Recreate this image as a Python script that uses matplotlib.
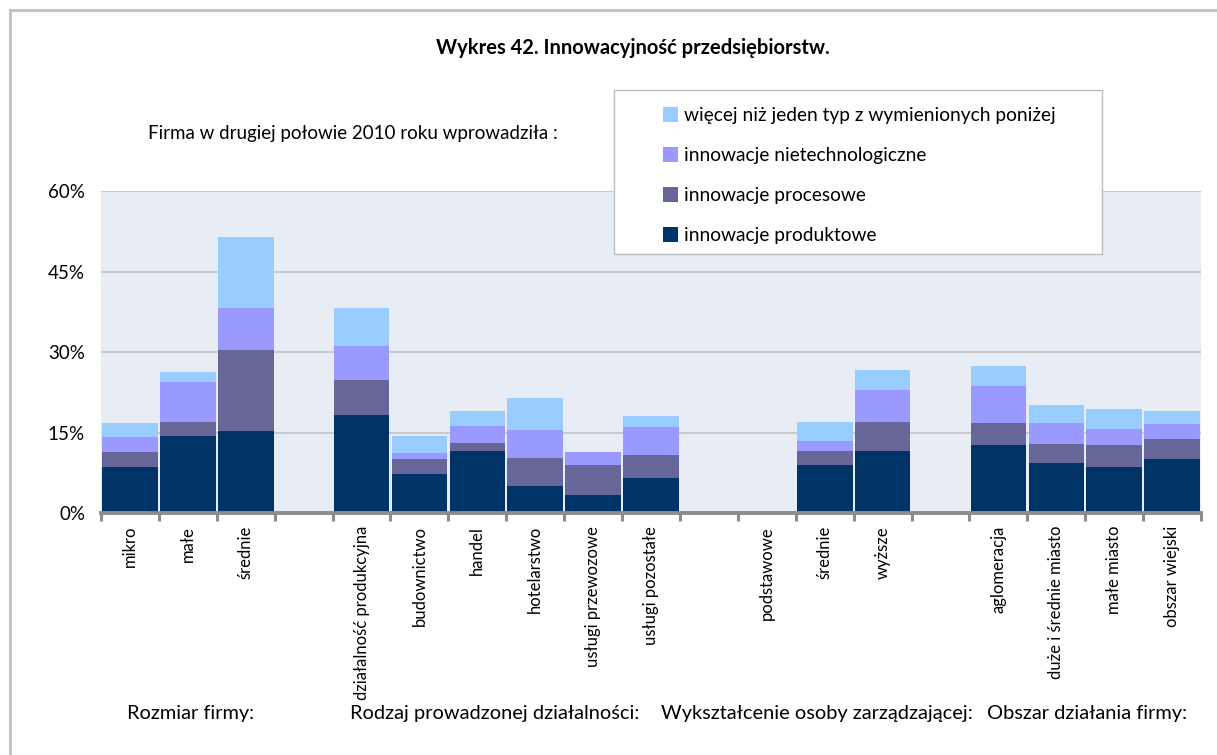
import matplotlib.pyplot as plt
import numpy as np
from matplotlib.patches import Patch, Rectangle
from matplotlib.lines import Line2D

plt.rcParams['font.family'] = ['Lato', 'DejaVu Sans']

# Kategorie (puste pozycje to odstępy między grupami)
categories = ['mikro', 'małe', 'średnie', '',
              'działalność produkcyjna', 'budownictwo', 'handel', 'hotelarstwo',
              'usługi przewozowe', 'usługi pozostałe', '',
              'podstawowe', 'średnie', 'wyższe', '',
              'aglomeracja', 'duże i średnie miasto', 'małe miasto', 'obszar wiejski']

# Udział firm (%)
produktowe = [8.6, 14.5, 15.3, 0, 18.3, 7.3, 11.6, 5.1, 3.5, 6.6, 0,
              0, 9.1, 11.6, 0, 12.8, 9.3, 8.6, 10.1]
procesowe = [2.9, 2.5, 15.1, 0, 6.5, 2.8, 1.6, 5.2, 5.6, 4.2, 0,
             0, 2.5, 5.5, 0, 4.0, 3.7, 4.2, 3.7]
nietechnologiczne = [2.7, 7.4, 7.9, 0, 6.4, 1.2, 3.1, 5.2, 2.3, 5.2, 0,
                     0, 1.9, 5.9, 0, 6.9, 3.8, 2.9, 2.8]
wiecej_niz_jeden = [2.7, 2.0, 13.2, 0, 7.1, 3.2, 2.8, 5.9, 0.0, 2.1, 0,
                    0, 3.5, 3.6, 0, 3.7, 3.4, 3.7, 2.5]

series = [
    ('innowacje produktowe', produktowe, '#003366'),
    ('innowacje procesowe', procesowe, '#666699'),
    ('innowacje nietechnologiczne', nietechnologiczne, '#9999FF'),
    ('więcej niż jeden typ z wymienionych poniżej', wiecej_niz_jeden, '#99CCFF'),
]

group_names = ['Rozmiar firmy:', 'Rodzaj prowadzonej działalności:',
               'Wykształcenie osoby zarządzającej:', 'Obszar działania firmy:']
group_x = [1.04, 6.3, 11.87, 16.53]

fig = plt.figure(figsize=(12.17, 7.55), dpi=100)
ax = fig.add_axes([0.083, 0.3199, 0.9039, 0.4272])
ax.set_facecolor('#E8ECF4')

x = np.arange(len(categories))
bottom = np.zeros(len(categories))
for name, vals, color in series:
    vals = np.array(vals)
    ax.bar(x, vals, width=0.96, bottom=bottom, color=color,
           edgecolor='none', zorder=3)
    bottom += vals

ax.set_xlim(-0.5, len(categories) - 0.5)
ax.set_ylim(0, 60)
ax.set_yticks([0, 15, 30, 45, 60])
ax.set_yticklabels([f'{v}%' for v in [0, 15, 30, 45, 60]], fontsize=13.5)
ax.tick_params(axis='y', length=0, pad=11.5)
ax.yaxis.grid(True, color='#C4C4C4', linewidth=1.2, zorder=0)

ax.set_xticks(x)
ax.set_xticklabels(categories, rotation=90, fontsize=12, va='top')
ax.tick_params(axis='x', which='major', length=0, pad=9)
ax.set_xticks(np.arange(-0.5, len(categories)), minor=True)
ax.tick_params(axis='x', which='minor', length=6, width=2.2, color='#8C8C8C')

for side in ['top', 'right', 'left']:
    ax.spines[side].set_visible(False)
ax.spines['bottom'].set_color('#8C8C8C')
ax.spines['bottom'].set_linewidth(2.8)
ax.spines['bottom'].set_zorder(4)

# Nazwy grup pod osią
for name, gx in zip(group_names, group_x):
    ax.text(gx, -0.62, name, transform=ax.get_xaxis_transform(),
            fontsize=14.4, ha='center', va='center')

fig.text(0.52, 0.937, 'Wykres 42. Innowacyjność przedsiębiorstw.',
         fontsize=14.5, fontweight='bold', ha='center', va='center')
fig.text(0.1215, 0.823, 'Firma w drugiej połowie 2010 roku wprowadziła :',
         fontsize=13.5, ha='left', va='center')

# Ramka wokół całego wykresu
fig.add_artist(Line2D([0.0083, 0.0083], [-0.1, 0.987], color='#C0C0C0',
                      linewidth=2, transform=fig.transFigure))
fig.add_artist(Line2D([0.0083, 1.1], [0.987, 0.987], color='#C0C0C0',
                      linewidth=2, transform=fig.transFigure))

# Legenda w osobnej białej ramce
fig.add_artist(Rectangle((0.5045, 0.6636), 0.401, 0.2172, facecolor='white',
                         edgecolor='#BEBEBE', linewidth=1,
                         transform=fig.transFigure, zorder=5))
handles = [Patch(facecolor=c, edgecolor='none', label=n) for n, _, c in reversed(series)]
leg = fig.legend(handles=handles, loc='upper left',
                 bbox_to_anchor=(0.5365, 0.871), frameon=False, fontsize=13.8,
                 handlelength=0.8, handleheight=0.8, handletextpad=0.3,
                 labelspacing=1.2, borderpad=0)
leg.set_zorder(6)

plt.savefig('out.png', dpi=100)
